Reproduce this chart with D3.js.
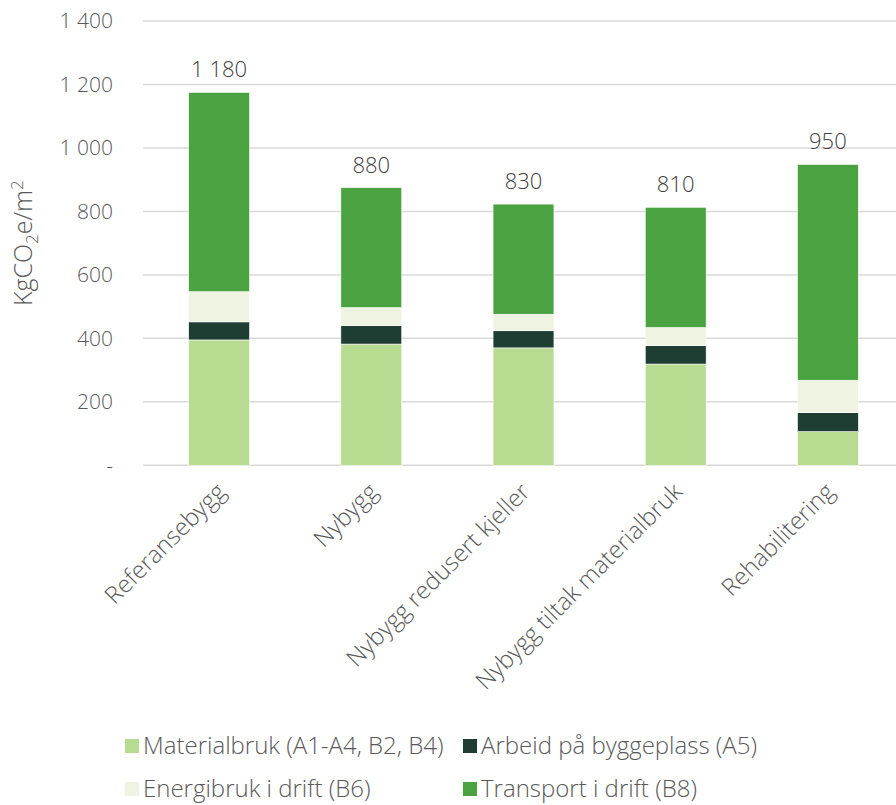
<!DOCTYPE html>
<html>
<head>
<meta charset="utf-8">
<script src="https://d3js.org/d3.v7.min.js"></script>
<style>
  body { margin: 0; background: #fff; }
  text { font-family: "Open Sans", "Noto Sans", sans-serif; font-weight: 300; }
</style>
</head>
<body>
<div id="chart"></div>
<script>
// data
const categories = ['Referansebygg', 'Nybygg', 'Nybygg redusert kjeller', 'Nybygg tiltak materialbruk', 'Rehabilitering'];
const seriesNames = ['Materialbruk (A1-A4, B2, B4)', 'Arbeid på byggeplass (A5)', 'Energibruk i drift (B6)', 'Transport i drift (B8)'];
const materialbruk = [395, 382, 370, 319, 106];
const arbeid = [57, 58, 54, 58, 60];
const energibruk = [95, 57, 52, 57, 102];
const transport = [628, 378, 347, 379, 680];
const totalLabels = [1180, 880, 830, 810, 950];
const yTicks = [0, 200, 400, 600, 800, 1000, 1200, 1400];
const colors = ['#b7db90', '#1e3d33', '#eff3e2', '#4aa241'];

const width = 896, height = 805;
const margin = { top: 21, right: -8, bottom: 340, left: 143 };
const font = '"Open Sans", "Noto Sans", sans-serif';

const svg = d3.select('#chart')
    .append('svg')
    .attr('width', width)
    .attr('height', height);

const rows = categories.map((c, i) => ({
    cat: c,
    s0: materialbruk[i], s1: arbeid[i], s2: energibruk[i], s3: transport[i]
}));
const stacked = d3.stack().keys(['s0', 's1', 's2', 's3'])(rows);

const x = d3.scaleBand()
    .domain(categories)
    .range([margin.left, width - margin.right])
    .paddingInner(0.6)
    .paddingOuter(0.3);

const y = d3.scaleLinear()
    .domain([0, 1400])
    .range([height - margin.bottom + 0.3, margin.top]);

const fmt = v => v === 0 ? '-' : d3.format(',')(v).replace(/,/g, ' ');

// gridlines
svg.append('g')
    .selectAll('line')
    .data(yTicks)
    .join('line')
    .attr('x1', margin.left)
    .attr('x2', width)
    .attr('y1', d => y(d))
    .attr('y2', d => y(d))
    .attr('stroke', '#d9d9d9')
    .attr('stroke-width', 1.5);

// y axis labels
const yAxis = svg.append('g')
    .attr('transform', `translate(${margin.left},0)`)
    .call(d3.axisLeft(y).tickValues(yTicks).tickFormat(fmt).tickSize(0).tickPadding(30));
yAxis.select('.domain').remove();
yAxis.selectAll('text')
    .attr('fill', '#595959')
    .attr('font-size', '21px')
    .attr('font-family', font)
    .attr('font-weight', 300);

// bars
svg.append('g')
    .selectAll('g')
    .data(stacked)
    .join('g')
    .attr('fill', (d, i) => colors[i])
    .selectAll('rect')
    .data(d => d)
    .join('rect')
    .attr('x', d => x(d.data.cat))
    .attr('y', d => y(d[1]))
    .attr('width', x.bandwidth())
    .attr('height', d => y(d[0]) - y(d[1]))
    .attr('stroke', '#ffffff')
    .attr('stroke-width', 0.6);

// totals above bars
svg.append('g')
    .selectAll('text')
    .data(categories)
    .join('text')
    .attr('x', d => x(d) + x.bandwidth() / 2)
    .attr('y', (d, i) => y(materialbruk[i] + arbeid[i] + energibruk[i] + transport[i]) - 15)
    .attr('text-anchor', 'middle')
    .attr('font-size', '22px')
    .attr('fill', '#404040')
    .text((d, i) => fmt(totalLabels[i]));

// category labels
svg.append('g')
    .selectAll('text')
    .data(categories)
    .join('text')
    .attr('transform', d => `translate(${x(d) + x.bandwidth() / 2 + 2},${y(0) + 22}) rotate(-45)`)
    .attr('text-anchor', 'end')
    .attr('dy', '0.35em')
    .attr('font-size', '24px')
    .attr('fill', '#595959')
    .text(d => d);

// y axis title
const title = svg.append('text')
    .attr('transform', `translate(32,${(y(0) + y(1400)) / 2}) rotate(-90)`)
    .attr('text-anchor', 'middle')
    .attr('font-size', '25px')
    .attr('fill', '#595959');
title.append('tspan').text('KgCO');
title.append('tspan').attr('font-size', '17px').attr('dy', '6').text('2');
title.append('tspan').attr('dy', '-6').text('e/m');
title.append('tspan').attr('font-size', '17px').attr('dy', '-9').text('2');

// legend
const legendPos = [[125, 746], [463, 746], [125, 789], [463, 789]];
const legend = svg.append('g')
    .selectAll('g')
    .data(seriesNames)
    .join('g')
    .attr('transform', (d, i) => `translate(${legendPos[i][0]},${legendPos[i][1]})`);
legend.append('rect')
    .attr('x', 0)
    .attr('y', -7)
    .attr('width', 14)
    .attr('height', 14)
    .attr('fill', (d, i) => colors[i]);
legend.append('text')
    .attr('x', 18)
    .attr('dy', '0.35em')
    .attr('font-size', '24px')
    .attr('fill', '#595959')
    .text(d => d);
</script>
</body>
</html>
